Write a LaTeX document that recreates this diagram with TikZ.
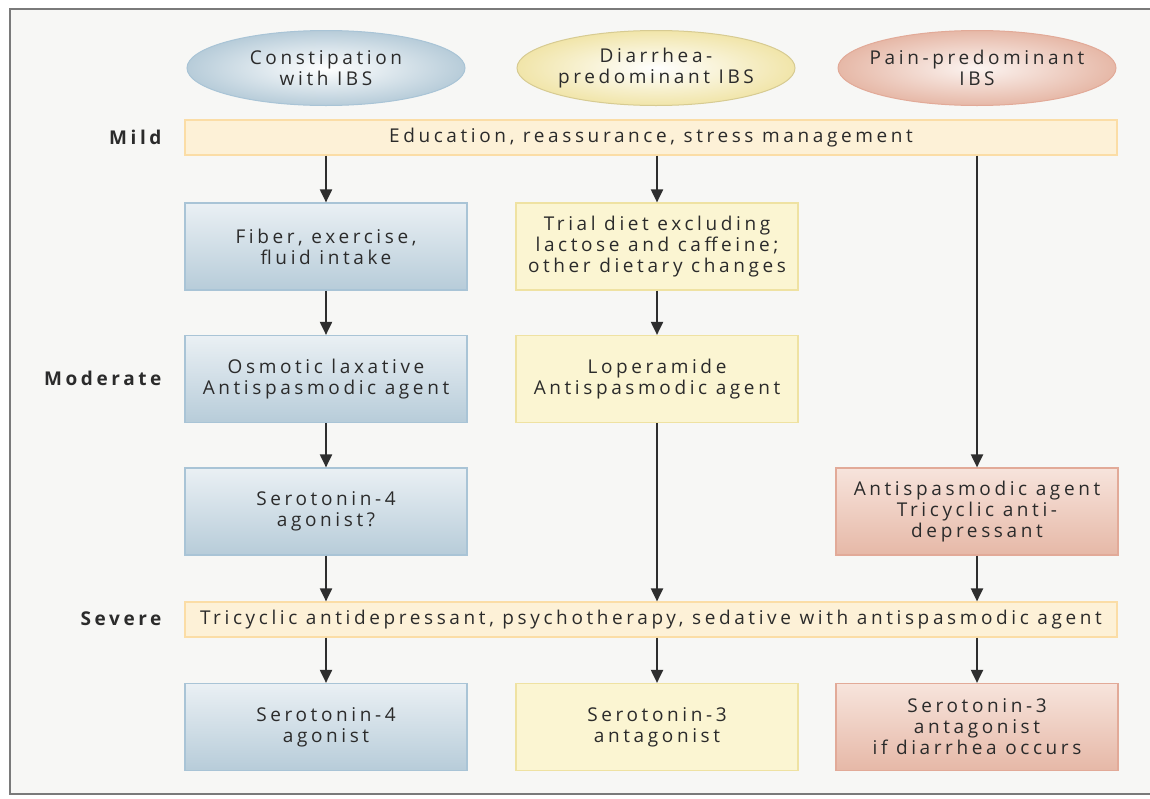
\documentclass[tikz,border=0pt]{standalone}
\usepackage{fontspec}
\setmainfont{Open Sans}[LetterSpace=19]
\usetikzlibrary{shapes.geometric,arrows.meta}

\definecolor{framebg}{HTML}{F7F7F5}
\definecolor{frameline}{HTML}{7A7A7A}
\definecolor{inktext}{HTML}{2B2B2B}
\definecolor{inkarrow}{HTML}{2E2E2E}
\definecolor{bluetop}{HTML}{EAF0F4}
\definecolor{bluebot}{HTML}{B7CCD9}
\definecolor{blueedge}{HTML}{A9C4D6}
\definecolor{yelfill}{HTML}{FBF5D2}
\definecolor{yeledge}{HTML}{EFE2A2}
\definecolor{pinktop}{HTML}{F7E4DC}
\definecolor{pinkbot}{HTML}{E6B8A7}
\definecolor{pinkedge}{HTML}{E2AA98}
\definecolor{bandfill}{HTML}{FDF1D7}
\definecolor{bandedge}{HTML}{FBDDA6}

\begin{document}
\begin{tikzpicture}[x=1pt, y=-1pt, >={Triangle[width=12pt,length=13pt]},
  every node/.style={font=\fontsize{19}{21}\selectfont, text=inktext, align=center},
  ibsoval/.style={ellipse, minimum width=278pt, minimum height=75pt, inner xsep=-22pt, inner ysep=0pt, line width=1pt},
  constoval/.style={ibsoval, draw=blueedge, inner color=white, outer color=bluebot},
  diaroval/.style={ibsoval, draw=yeledge!90!black, inner color=white, outer color=yeledge!85!yelfill},
  painoval/.style={ibsoval, draw=pinkedge, inner color=pinktop!40!white, outer color=pinkbot},
  treatbox/.style={rectangle, minimum width=282pt, minimum height=87pt, inner sep=0pt, line width=1.2pt},
  constbox/.style={treatbox, draw=blueedge, top color=bluetop, bottom color=bluebot},
  diarbox/.style={treatbox, draw=yeledge, fill=yelfill},
  painbox/.style={treatbox, draw=pinkedge, top color=pinktop, bottom color=pinkbot},
  band/.style={rectangle, minimum width=932pt, minimum height=35pt, inner sep=0pt, draw=bandedge, fill=bandfill, line width=1.2pt},
  grade/.style={anchor=east, font=\fontsize{19}{21}\selectfont\bfseries},
  flow/.style={->, draw=inkarrow, line width=2pt}]
  \useasboundingbox (0,0) rectangle (1150,798);
  \fill[framebg] (10,9) rectangle (1150,794);
  \draw[frameline, line width=2pt] (1150,9) -- (10,9) -- (10,794) -- (1150,794);

  % IBS types
  \node[constoval] (constibs) at (326,68) {Constipation\\with IBS};
  \node[diaroval] (diaribs) at (656,68) {Diarrhea-\\predominant IBS};
  \node[painoval] (painibs) at (977,68) {Pain-predominant\\IBS};

  % mild
  \node[band] (mild) at (651,137.5) {Education, reassurance, stress management};
  \node[grade] (mildlbl) at (165,137) {Mild};
  \node[constbox] (fiber) at (326,246.5) {Fiber, exercise,\\fluid intake};
  \node[diarbox] (trial) at (657,246.5) {Trial diet excluding\\lactose and caffeine;\\other dietary changes};

  % moderate
  \node[constbox] (osmotic) at (326,379) {Osmotic laxative\\Antispasmodic agent};
  \node[diarbox] (loper) at (657,379) {Loperamide\\Antispasmodic agent};
  \node[grade] (modlbl) at (165,378) {Moderate};
  \node[constbox] (sero4q) at (326,511.5) {Serotonin-4\\agonist?};
  \node[painbox] (antisp) at (977,511.5) {Antispasmodic agent\\Tricyclic anti-\\depressant};

  % severe
  \node[band] (severe) at (651,619.5) {Tricyclic antidepressant, psychotherapy, sedative with antispasmodic agent};
  \node[grade] (sevlbl) at (165,619) {Severe};
  \node[constbox] (sero4) at (326,727) {Serotonin-4\\agonist};
  \node[diarbox] (sero3) at (657,727) {Serotonin-3\\antagonist};
  \node[painbox] (sero3d) at (977,727) {Serotonin-3\\antagonist\\if diarrhea occurs};

  \draw[flow] (mild.south -| fiber) -- (fiber);
  \draw[flow] (fiber) -- (osmotic);
  \draw[flow] (osmotic) -- (sero4q);
  \draw[flow] (sero4q) -- (severe.north -| sero4q);
  \draw[flow] (severe.south -| sero4) -- (sero4);

  \draw[flow] (mild.south -| trial) -- (trial);
  \draw[flow] (trial) -- (loper);
  \draw[flow] (loper) -- (severe.north -| loper);
  \draw[flow] (severe.south -| sero3) -- (sero3);

  \draw[flow] (mild.south -| antisp) -- (antisp);
  \draw[flow] (antisp) -- (severe.north -| antisp);
  \draw[flow] (severe.south -| sero3d) -- (sero3d);
\end{tikzpicture}
\end{document}
